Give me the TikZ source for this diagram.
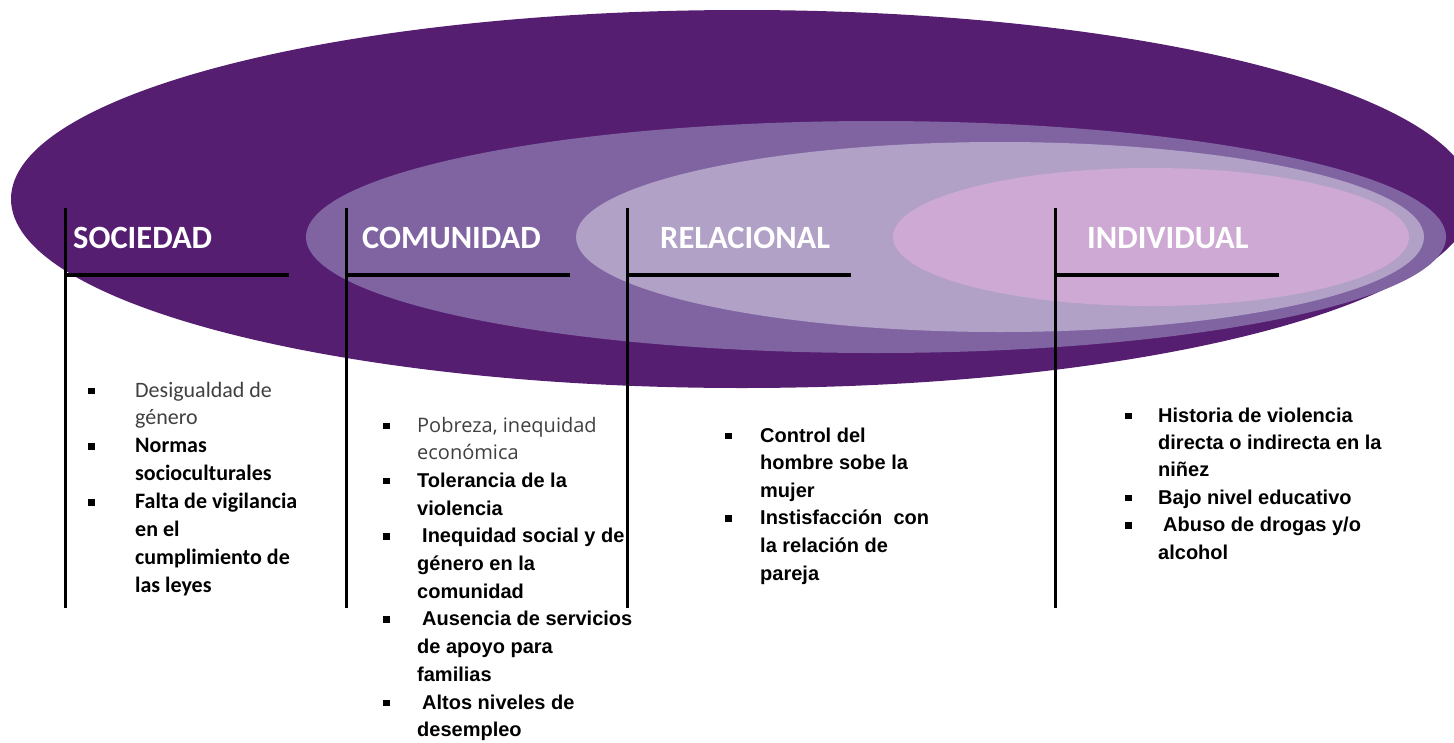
\documentclass[tikz,border=0pt]{standalone}
\usepackage{fontspec}
\newfontfamily\calfont{Carlito}
\newfontfamily\arlfont{Liberation Sans}
\newfontfamily\opsfont{Open Sans}
\definecolor{outerpurple}{RGB}{85,30,113}
\definecolor{midpurple}{RGB}{128,100,162}
\definecolor{lightpurple}{RGB}{178,161,199}
\definecolor{pinkpurple}{RGB}{205,169,211}
\definecolor{txtgray}{RGB}{64,64,64}
\newcommand\sqbul{\rule[3pt]{6.5pt}{6.5pt}}
\tikzset{
  levellabel/.style={anchor=base west, inner sep=0pt, text=white, font=\calfont\bfseries\fontsize{32.5}{38}\selectfont},
  colline/.style={line width=3pt, black},
  barline/.style={line width=3.5pt, black},
  coltext/.style={anchor=base west, inner sep=0pt, text=black},
}
\begin{document}
\begin{tikzpicture}[x=1pt,y=-1pt]
\useasboundingbox (0,0) rectangle (1454,742);
% ellipses
\fill[outerpurple] (742,199) ellipse [x radius=731, y radius=189];
\fill[midpurple] (876,237) ellipse [x radius=570, y radius=116];
\fill[lightpurple] (1000,237) ellipse [x radius=424, y radius=95];
\fill[pinkpurple] (1151,237) ellipse [x radius=258, y radius=69];
% lines
\foreach \n/\x in {s/65,c/346,r/627,i/1055}{
  \coordinate (\n top) at (\x,208);
  \coordinate (\n bot) at (\x,608);
  \coordinate (\n bar) at (\x,275);
  \coordinate (\n barend) at (\x+224,275);
  \draw[colline] (\n top) -- (\n bot);
  \draw[barline] (\n bar) -- (\n barend);
}
% labels
\node[levellabel] (lsoc) at (73,248) {SOCIEDAD};
\node[levellabel] (lcom) at (362,248) {COMUNIDAD};
\node[levellabel] (lrel) at (660,248) {RELACIONAL};
\node[levellabel] (lind) at (1087,248) {INDIVIDUAL};
% column texts
\node[coltext, font=\calfont\fontsize{22}{27.9}\selectfont] (tsoc) at (88,397) {%
\begin{tabular}[t]{@{}p{47pt}@{}l@{}}
\sqbul & \textcolor{txtgray}{Desigualdad de}\\
 & \textcolor{txtgray}{género}\\
\sqbul & \textbf{Normas}\\
 & \textbf{socioculturales}\\
\sqbul & \textbf{Falta de vigilancia}\\
 & \textbf{en el}\\
 & \textbf{cumplimiento de}\\
 & \textbf{las leyes}
\end{tabular}};
\node[coltext, font=\arlfont\fontsize{20}{27.7}\selectfont] (tcom) at (383,432) {%
\begin{tabular}[t]{@{}p{34pt}@{}l@{}}
\sqbul & \textcolor{txtgray}{\opsfont Pobreza, inequidad}\\
 & \textcolor{txtgray}{\opsfont económica}\\
\sqbul & \textbf{Tolerancia de la}\\
 & \textbf{violencia}\\
\sqbul & \hspace{5pt}\textbf{Inequidad social y de}\\
 & \textbf{género en la}\\
 & \textbf{comunidad}\\
\sqbul & \hspace{5pt}\textbf{Ausencia de servicios}\\
 & \textbf{de apoyo para}\\
 & \textbf{familias}\\
\sqbul & \hspace{5pt}\textbf{Altos niveles de}\\
 & \textbf{desempleo}
\end{tabular}};
\node[coltext, font=\arlfont\fontsize{20}{27.6}\selectfont] (trel) at (725,442) {%
\begin{tabular}[t]{@{}p{35pt}@{}l@{}}
\sqbul & \textbf{Control del}\\
 & \textbf{hombre sobe la}\\
 & \textbf{mujer}\\
\sqbul & \textbf{Instisfacción\ \ con}\\
 & \textbf{la relación de}\\
 & \textbf{pareja}
\end{tabular}};
\node[coltext, font=\arlfont\fontsize{20}{27.4}\selectfont] (tind) at (1125,422) {%
\begin{tabular}[t]{@{}p{33pt}@{}l@{}}
\sqbul & \textbf{Historia de violencia}\\
 & \textbf{directa o indirecta en la}\\
 & \textbf{niñez}\\
\sqbul & \textbf{Bajo nivel educativo}\\
\sqbul & \hspace{5pt}\textbf{Abuso de drogas y/o}\\
 & \textbf{alcohol}
\end{tabular}};
\end{tikzpicture}
\end{document}
